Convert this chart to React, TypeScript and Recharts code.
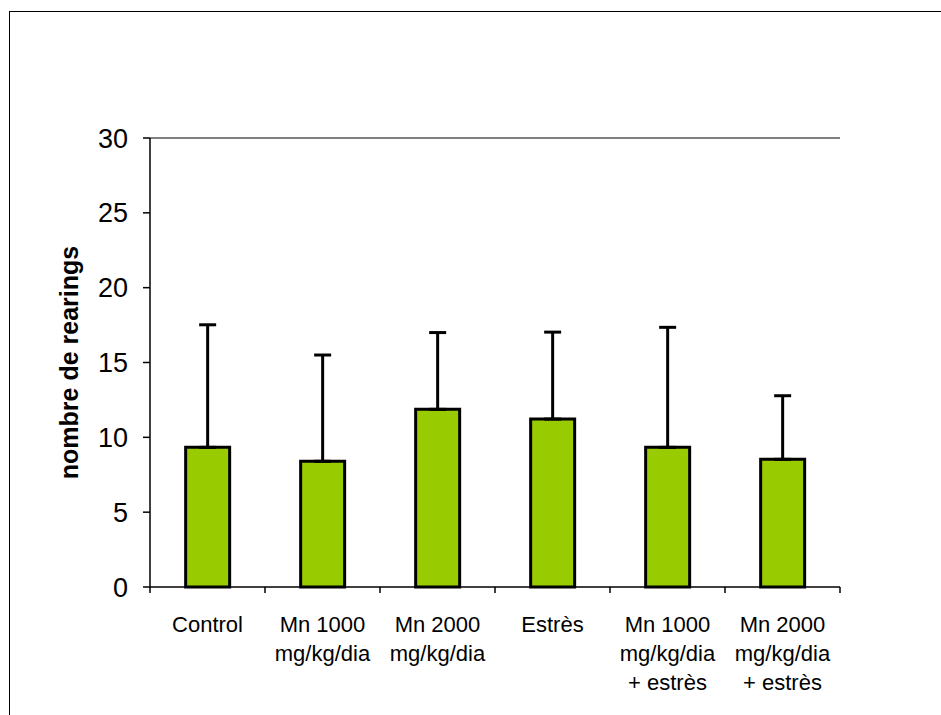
import { BarChart, Bar, XAxis, YAxis, ErrorBar, ReferenceLine } from 'recharts';

const groups = [
    'Control',
    'Mn 1000\nmg/kg/dia',
    'Mn 2000\nmg/kg/dia',
    'Estrès',
    'Mn 1000\nmg/kg/dia\n+ estrès',
    'Mn 2000\nmg/kg/dia\n+ estrès',
];
const means = [9.33, 8.4, 11.87, 11.22, 9.33, 8.53];
const errors = [8.19, 7.1, 5.13, 5.81, 8.02, 4.25];
const yTicks = [0, 5, 10, 15, 20, 25, 30];

const data = groups.map((name, i) => ({
    name,
    value: means[i],
    err: [0, errors[i]],
}));

const FONT = '"Liberation Sans", Arial, sans-serif';

const GroupTick = (props: any) => {
    const { x, y, payload, index, visibleTicksCount } = props;
    const half = payload.offset ?? 0;
    const lines = String(payload.value).split('\n');
    const last = index === (visibleTicksCount ?? groups.length) - 1;
    return (
        <g>
            <line x1={x - half} y1={y} x2={x - half} y2={y + 6} stroke="#000" strokeWidth={1.5} />
            {last && <line x1={x + half} y1={y} x2={x + half} y2={y + 6} stroke="#000" strokeWidth={1.5} />}
            {lines.map((l, i) => (
                <text key={i} x={x} y={y + 45 + i * 29} textAnchor="middle" fontSize={22} fontFamily={FONT} fill="#000">
                    {l}
                </text>
            ))}
        </g>
    );
};

const YTitle = (props: any) => {
    const { viewBox } = props;
    const cx = viewBox.x + 69;
    const cy = viewBox.y + viewBox.height / 2;
    return (
        <text
            x={cx}
            y={cy}
            transform={`rotate(-90, ${cx}, ${cy})`}
            textAnchor="middle"
            dominantBaseline="central"
            fontSize={25}
            fontWeight="bold"
            fontFamily={FONT}
            fill="#000"
        >
            nombre de rearings
        </text>
    );
};

const App = () => {
    return (
        <div style={{ position: 'fixed', left: 0, top: 0, width: 941, height: 715, background: '#fff' }}>
            <div style={{ position: 'absolute', left: 9, top: 11, width: 932, height: 704, borderLeft: '1.5px solid #000', borderTop: '1.5px solid #000' }} />
            <div style={{ position: 'absolute', left: 0, top: 0 }}>
                <BarChart
                    width={941}
                    height={715}
                    data={data}
                    margin={{ top: 138, right: 101, left: 0, bottom: 0 }}
                    barCategoryGap="31%"
                >
                    <XAxis
                        dataKey="name"
                        height={128}
                        interval={0}
                        tickLine={false}
                        tickSize={0}
                        tickMargin={0}
                        axisLine={{ stroke: '#000', strokeWidth: 1.5 }}
                        tick={<GroupTick />}
                    />
                    <YAxis
                        width={150}
                        domain={[0, 30]}
                        ticks={yTicks}
                        interval={0}
                        tickSize={7}
                        tickMargin={15}
                        axisLine={{ stroke: '#000', strokeWidth: 1.5 }}
                        tickLine={{ stroke: '#000', strokeWidth: 1.5 }}
                        tick={{ fontSize: 27, fontFamily: FONT, fill: '#000' }}
                        label={<YTitle />}
                    />
                    <YAxis
                        yAxisId="right"
                        orientation="right"
                        width={0}
                        domain={[0, 30]}
                        tick={false}
                        tickLine={false}
                        axisLine={{ stroke: '#808080', strokeWidth: 2 }}
                    />
                    <ReferenceLine y={30} stroke="#808080" strokeWidth={2} />
                    <Bar dataKey="value" fill="#99CC00" stroke="#000" strokeWidth={3} isAnimationActive={false}>
                        <ErrorBar dataKey="err" direction="y" width={8.5} stroke="#000" strokeWidth={3} isAnimationActive={false} />
                    </Bar>
                </BarChart>
            </div>
        </div>
    );
};

export default App;
